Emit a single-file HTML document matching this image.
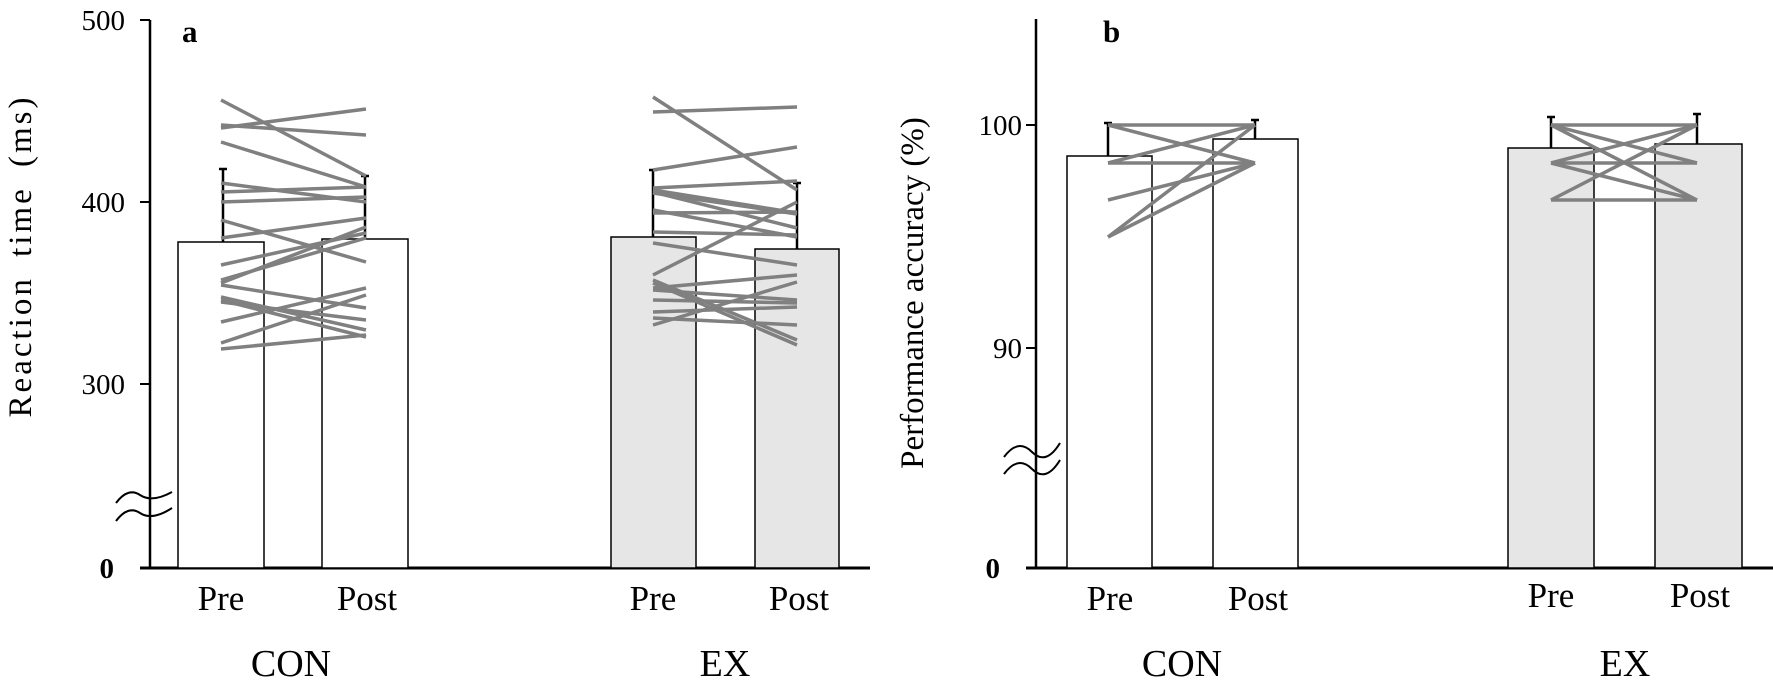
<!DOCTYPE html>
<html><head><meta charset="utf-8"><style>
html,body{margin:0;padding:0;background:#fff;}
svg{display:block;font-family:"Liberation Serif",serif;}
</style></head><body>
<svg width="1773" height="687" viewBox="0 0 1773 687" xmlns="http://www.w3.org/2000/svg">
<!-- Panel a -->
<g stroke="#000" fill="none">
<line x1="150" y1="20" x2="150" y2="568" stroke-width="2.5"/>
<line x1="140" y1="568" x2="870" y2="568" stroke-width="3"/>
<line x1="140" y1="20" x2="150" y2="20" stroke-width="2"/>
<line x1="140" y1="202" x2="150" y2="202" stroke-width="2"/>
<line x1="140" y1="384" x2="150" y2="384" stroke-width="2"/>
</g>
<g fill="#fff" stroke="#000" stroke-width="1.5">
<rect x="178" y="242" width="86" height="326"/>
<rect x="322" y="239" width="86" height="329"/>
<rect x="611" y="237" width="85" height="331" fill="#e6e6e6"/>
<rect x="755" y="249" width="84" height="319" fill="#e6e6e6"/>
</g>
<g stroke="#000" stroke-width="2.5">
<line x1="223" y1="169" x2="223" y2="242"/><line x1="219" y1="169" x2="227" y2="169"/>
<line x1="365" y1="176" x2="365" y2="239"/><line x1="361" y1="176" x2="369" y2="176"/>
<line x1="653" y1="170" x2="653" y2="237"/><line x1="649" y1="170" x2="657" y2="170"/>
<line x1="797" y1="183" x2="797" y2="249"/><line x1="793" y1="183" x2="801" y2="183"/>
</g>
<g stroke="#808080" stroke-width="3.5">
<line x1="221" y1="100" x2="366" y2="176"/>
<line x1="221" y1="125" x2="366" y2="135"/>
<line x1="221" y1="128" x2="366" y2="109"/>
<line x1="221" y1="142" x2="366" y2="187"/>
<line x1="221" y1="183" x2="366" y2="202"/>
<line x1="221" y1="192" x2="366" y2="187"/>
<line x1="221" y1="202" x2="366" y2="197"/>
<line x1="221" y1="220" x2="366" y2="262"/>
<line x1="221" y1="238" x2="366" y2="218"/>
<line x1="221" y1="265" x2="366" y2="233"/>
<line x1="221" y1="280" x2="366" y2="238"/>
<line x1="221" y1="283" x2="366" y2="227"/>
<line x1="221" y1="285" x2="366" y2="308"/>
<line x1="221" y1="297" x2="366" y2="330"/>
<line x1="221" y1="302" x2="366" y2="320"/>
<line x1="221" y1="322" x2="366" y2="288"/>
<line x1="221" y1="343" x2="366" y2="295"/>
<line x1="221" y1="349" x2="366" y2="335"/>
<line x1="221" y1="300" x2="366" y2="337"/>
</g>
<g stroke="#808080" stroke-width="3.5">
<line x1="653" y1="97" x2="797" y2="190"/>
<line x1="653" y1="112" x2="797" y2="107"/>
<line x1="653" y1="170" x2="797" y2="147"/>
<line x1="653" y1="188" x2="797" y2="181"/>
<line x1="653" y1="190" x2="797" y2="213"/>
<line x1="653" y1="192" x2="797" y2="228"/>
<line x1="653" y1="193" x2="797" y2="214"/>
<line x1="653" y1="210" x2="797" y2="237"/>
<line x1="653" y1="213" x2="797" y2="212"/>
<line x1="653" y1="232" x2="797" y2="235"/>
<line x1="653" y1="243" x2="797" y2="265"/>
<line x1="653" y1="275" x2="797" y2="202"/>
<line x1="653" y1="280" x2="797" y2="340"/>
<line x1="653" y1="283" x2="797" y2="345"/>
<line x1="653" y1="288" x2="797" y2="275"/>
<line x1="653" y1="290" x2="797" y2="300"/>
<line x1="653" y1="300" x2="797" y2="303"/>
<line x1="653" y1="312" x2="797" y2="307"/>
<line x1="653" y1="318" x2="797" y2="325"/>
<line x1="653" y1="325" x2="797" y2="282"/>
</g>
<g stroke="#000" stroke-width="2" fill="none">
<path d="M116,503 Q128,487 140,495 T172,492"/>
<path d="M116,521 Q128,505 140,513 T172,508"/>
</g>
<g font-size="29" text-anchor="end" fill="#000">
<text x="125" y="30">500</text>
<text x="125" y="212">400</text>
<text x="125" y="394">300</text>
<text x="114" y="578" font-weight="bold">0</text>
</g>
<text x="31" y="256" font-size="33" letter-spacing="3" word-spacing="8" text-anchor="middle" transform="rotate(-90 31 256)">Reaction time (ms)</text>
<text x="182" y="42" font-size="31" font-weight="bold">a</text>
<g font-size="35" text-anchor="middle">
<text x="221" y="610">Pre</text><text x="367" y="610">Post</text>
<text x="653" y="610">Pre</text><text x="799" y="610">Post</text>
</g>
<g font-size="38" text-anchor="middle">
<text x="291" y="676">CON</text><text x="725" y="676">EX</text>
</g>

<!-- Panel b -->
<g stroke="#000" fill="none">
<line x1="1036" y1="19" x2="1036" y2="568" stroke-width="2.5"/>
<line x1="1026" y1="568" x2="1773" y2="568" stroke-width="3"/>
<line x1="1026" y1="125" x2="1036" y2="125" stroke-width="2"/>
<line x1="1026" y1="348" x2="1036" y2="348" stroke-width="2"/>
</g>
<g fill="#fff" stroke="#000" stroke-width="1.5">
<rect x="1067" y="156" width="85" height="412"/>
<rect x="1213" y="139" width="85" height="429"/>
<rect x="1508" y="148" width="86" height="420" fill="#e6e6e6"/>
<rect x="1655" y="144" width="87" height="424" fill="#e6e6e6"/>
</g>
<g stroke="#000" stroke-width="2.5">
<line x1="1108" y1="123" x2="1108" y2="156"/><line x1="1104" y1="123" x2="1112" y2="123"/>
<line x1="1255" y1="120" x2="1255" y2="139"/><line x1="1251" y1="120" x2="1259" y2="120"/>
<line x1="1551" y1="117" x2="1551" y2="148"/><line x1="1547" y1="117" x2="1555" y2="117"/>
<line x1="1697" y1="114" x2="1697" y2="144"/><line x1="1693" y1="114" x2="1701" y2="114"/>
</g>
<g stroke="#808080" stroke-width="3.5">
<line x1="1108" y1="125" x2="1255" y2="125"/>
<line x1="1108" y1="125" x2="1255" y2="163"/>
<line x1="1108" y1="163" x2="1255" y2="125"/>
<line x1="1108" y1="163" x2="1255" y2="163"/>
<line x1="1108" y1="200" x2="1255" y2="163"/>
<line x1="1108" y1="237" x2="1255" y2="163"/>
<line x1="1108" y1="237" x2="1255" y2="125"/>
</g>
<g stroke="#808080" stroke-width="3.5">
<line x1="1551" y1="125" x2="1697" y2="125"/>
<line x1="1551" y1="125" x2="1697" y2="163"/>
<line x1="1551" y1="125" x2="1697" y2="200"/>
<line x1="1551" y1="163" x2="1697" y2="163"/>
<line x1="1551" y1="163" x2="1697" y2="125"/>
<line x1="1551" y1="200" x2="1697" y2="200"/>
<line x1="1551" y1="200" x2="1697" y2="125"/>
<line x1="1551" y1="163" x2="1697" y2="200"/>
</g>
<g stroke="#000" stroke-width="2" fill="none">
<path d="M1004,457 Q1018,438 1032,452 T1060,443"/>
<path d="M1004,474 Q1018,455 1032,469 T1060,460"/>
</g>
<g font-size="29" text-anchor="end" fill="#000">
<text x="1022" y="135">100</text>
<text x="1022" y="358">90</text>
<text x="1000" y="578" font-weight="bold">0</text>
</g>
<text x="923" y="293" font-size="33" text-anchor="middle" transform="rotate(-90 923 293)">Performance  accuracy  (%)</text>
<text x="1103" y="42" font-size="31" font-weight="bold">b</text>
<g font-size="35" text-anchor="middle">
<text x="1110" y="610">Pre</text><text x="1258" y="610">Post</text>
<text x="1551" y="607">Pre</text><text x="1700" y="607">Post</text>
</g>
<g font-size="38" text-anchor="middle">
<text x="1182" y="676">CON</text><text x="1625" y="676">EX</text>
</g>
</svg>
</body></html>
